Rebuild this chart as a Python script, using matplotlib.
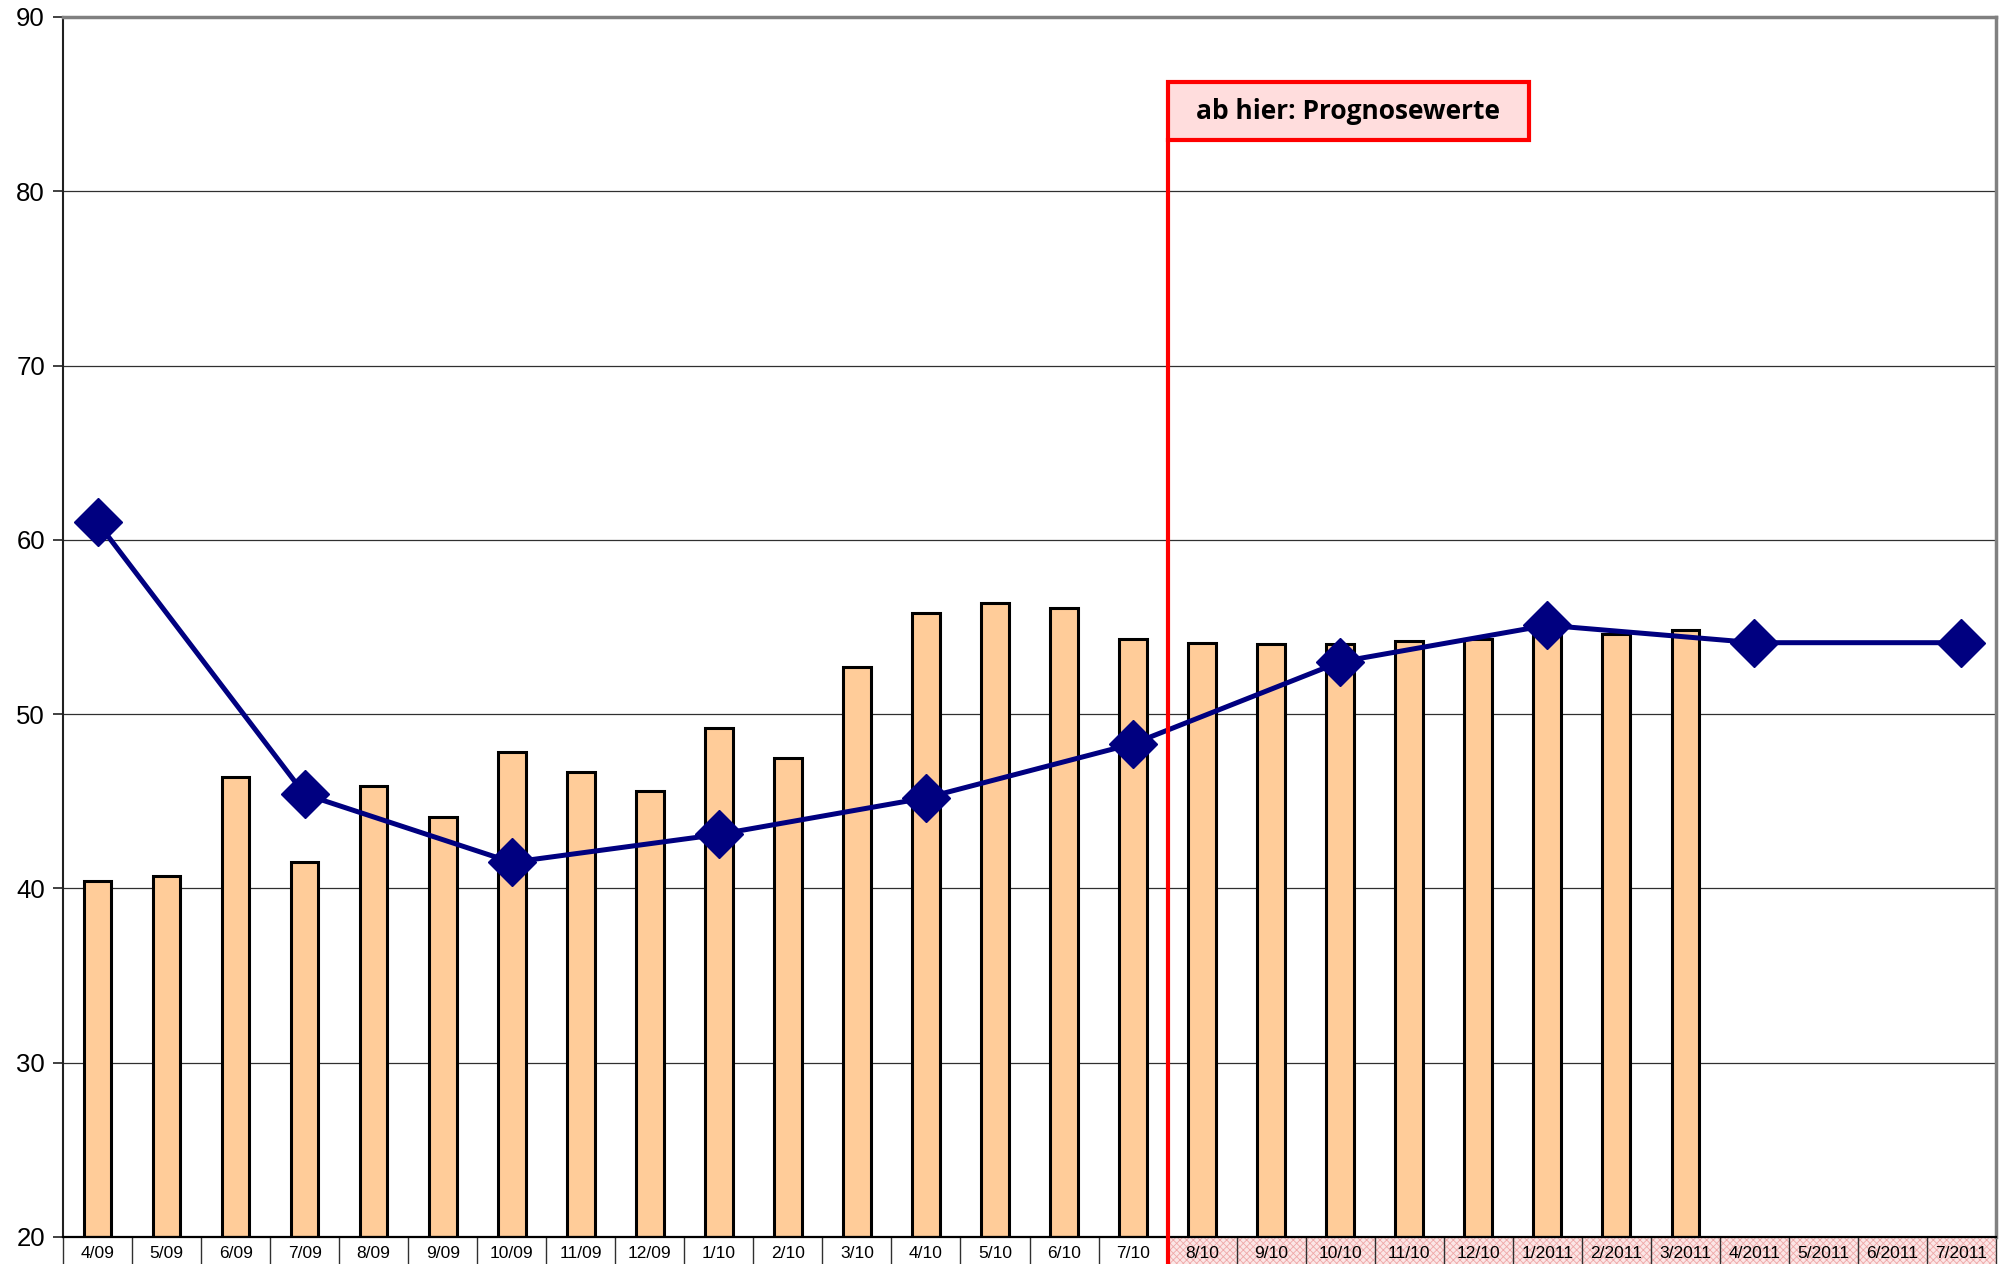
import matplotlib
matplotlib.use("Agg")
import matplotlib.pyplot as plt
from matplotlib.patches import Rectangle
import numpy as np

categories = ["4/09", "5/09", "6/09", "7/09", "8/09", "9/09", "10/09", "11/09", "12/09",
              "1/10", "2/10", "3/10", "4/10", "5/10", "6/10", "7/10",
              "8/10", "9/10", "10/10", "11/10", "12/10",
              "1/2011", "2/2011", "3/2011", "4/2011", "5/2011", "6/2011", "7/2011"]

bar_values = [40.4, 40.7, 46.4, 41.5, 45.9, 44.1, 47.8, 46.7, 45.6,
              49.2, 47.5, 52.7, 55.8, 56.4, 56.1, 54.3,
              54.1, 54.0, 54.0, 54.2, 54.3,
              54.5, 54.6, 54.8, None, None, None, None]

line_values = [61.0, None, None, 45.4, None, None, 41.5, None, None,
               43.1, None, None, 45.2, None, None, 48.3,
               None, None, 53.0, None, None,
               55.1, None, None, 54.1, None, None, 54.1]

forecast_start = "8/10"
annotation_text = "ab hier: Prognosewerte"

yticks = [20, 30, 40, 50, 60, 70, 80, 90]

W, H = 2001, 1264
fig = plt.figure(figsize=(W / 100, H / 100), dpi=100)
ax_l, ax_r, ax_t, ax_b = 63, 1996, 17, 1237
ax = fig.add_axes([ax_l / W, 1 - ax_b / H, (ax_r - ax_l) / W, (ax_b - ax_t) / H])

n = len(categories)
x = np.arange(n)
ax.set_xlim(-0.5, n - 0.5)
ax.set_ylim(20, 90)

# gridlines
for yv in yticks[1:-1]:
    ax.axhline(yv, color="#303030", lw=0.9, zorder=1)

# bars
bx = [i for i, v in enumerate(bar_values) if v is not None]
bv = [v for v in bar_values if v is not None]
ax.bar(bx, np.array(bv) - 20, bottom=20, width=0.4, color="#FFCC99",
       edgecolor="black", linewidth=2.2, zorder=2)

# line
lx = [i for i, v in enumerate(line_values) if v is not None]
lv = [v for v in line_values if v is not None]
ax.plot(lx, lv, color="#000080", lw=3.6, marker="D", markersize=24,
        markerfacecolor="#000080", markeredgecolor="#000080", zorder=4, clip_on=False)

# spines
for s in ["top", "right"]:
    ax.spines[s].set_color("#808080")
    ax.spines[s].set_linewidth(2.5)
ax.spines["left"].set_color("#202020")
ax.spines["left"].set_linewidth(1.5)
ax.spines["bottom"].set_color("black")
ax.spines["bottom"].set_linewidth(1.6)

ax.set_yticks(yticks)
ax.set_yticklabels([str(t) for t in yticks], fontsize=18.5, family="Liberation Sans")
ax.tick_params(axis="y", direction="out", length=7, width=1.2, pad=6, color="#202020")
ax.set_xticks([])

# category table below axis
plt.rcParams["hatch.linewidth"] = 0.6
fs_idx = categories.index(forecast_start)
ybot = 20 - 2.0
for i, lab in enumerate(categories):
    if i >= fs_idx:
        r = Rectangle((i - 0.5, ybot), 1, 20 - ybot, facecolor="#FBE6E6",
                      edgecolor="#EFA8A8", hatch="xxxxx", lw=0, clip_on=False, zorder=1)
        ax.add_patch(r)
    ax.plot([i - 0.5, i - 0.5], [ybot, 20], color="#303030", lw=1.0, clip_on=False, zorder=2)
    ax.text(i, 20 - 0.93, lab, ha="center", va="center", fontsize=12.5,
            family="Liberation Sans", clip_on=False)
ax.plot([n - 0.5, n - 0.5], [ybot, 20], color="#303030", lw=1.0, clip_on=False, zorder=2)

# forecast marker line and box
xr = fs_idx - 0.5
box_top, box_bot = 86.27, 82.94
box_right = 20.73
ax.plot([xr, xr], [ybot, box_bot], color="#FF0000", lw=3, clip_on=False, zorder=5)
ax.add_patch(Rectangle((xr, box_bot), box_right - xr, box_top - box_bot,
                       facecolor="#FFDDDD", edgecolor="#FF0000", lw=3, zorder=5))
ax.text((xr + box_right) / 2, (box_top + box_bot) / 2, annotation_text,
        ha="center", va="center", fontsize=19, fontweight="bold",
        family="Open Sans", zorder=6)

fig.savefig("out.png", dpi=100)
